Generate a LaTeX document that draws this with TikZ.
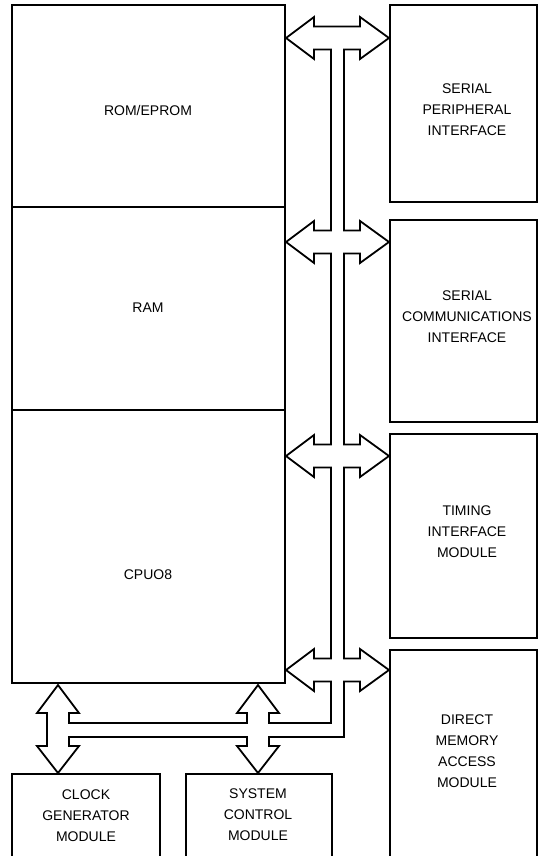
\documentclass[tikz,border=0pt]{standalone}
\usepackage{fontspec}
\setmainfont{Liberation Sans}
\begin{document}
\begin{tikzpicture}[x=1pt,y=-1pt,
  ln/.style={line width=1.8pt,line join=miter},
  lbl/.style={align=center,font=\fontsize{14}{21}\selectfont,inner sep=0pt}]
\useasboundingbox (0,0) rectangle (544,856);
\fill[white] (0,0) rectangle (544,856);
\begin{scope}
\clip (0,0) rectangle (544,856);
% left column
\draw[ln] (12,5) rectangle (285,683);
\draw[ln] (12,207) -- (285,207);
\draw[ln] (12,410) -- (285,410);
\node[lbl] (rom) at (148,110) {ROM/EPROM};
\node[lbl] (ram) at (148,308) {RAM};
\node[lbl] (cpu) at (148,575) {CPUO8};
% right column
\draw[ln] (390,5) rectangle (537,202);
\draw[ln] (390,220) rectangle (537,422);
\draw[ln] (390,434) rectangle (537,638);
\draw[ln] (390,870) -- (390,650) -- (537,650) -- (537,870);
\node[lbl] (spi) at (467,110) {SERIAL\\PERIPHERAL\\INTERFACE};
\node[lbl] (sci) at (467,317) {SERIAL\\COMMUNICATIONS\\INTERFACE};
\node[lbl] (tim) at (467,532) {TIMING\\INTERFACE\\MODULE};
\node[lbl] (dma) at (467,751) {DIRECT\\MEMORY\\ACCESS\\MODULE};
% bottom boxes
\draw[ln] (12,870) -- (12,774) -- (160,774) -- (160,870);
\draw[ln] (186,870) -- (186,774) -- (332,774) -- (332,870);
\node[lbl] (cgm) at (86,816) {CLOCK\\GENERATOR\\MODULE};
\node[lbl] (scm) at (258,815) {SYSTEM\\CONTROL\\MODULE};
% bus outline
\draw[ln,fill=white]
  (331,26.5) -- (314,26.5) -- (314,17) -- (286,38) -- (314,59) -- (314,49.5) -- (331,49.5)
  -- (331,230.5) -- (314,230.5) -- (314,221) -- (286,242) -- (314,263) -- (314,253.5) -- (331,253.5)
  -- (331,444.5) -- (314,444.5) -- (314,435) -- (286,456) -- (314,477) -- (314,467.5) -- (331,467.5)
  -- (331,658.5) -- (314,658.5) -- (314,649) -- (286,670) -- (314,691) -- (314,681.5) -- (331,681.5)
  -- (331,723) -- (269,723) -- (269,713) -- (279,713) -- (258,685) -- (237,713) -- (247,713) -- (247,723)
  -- (69,723) -- (69,713) -- (79,713) -- (58,685) -- (37,713) -- (47,713)
  -- (47,746) -- (37,746) -- (58,773) -- (79,746) -- (69,746) -- (69,737)
  -- (247,737) -- (247,746) -- (237,746) -- (258,773) -- (279,746) -- (269,746) -- (269,737)
  -- (344,737) -- (344,681.5)
  -- (360,681.5) -- (360,691) -- (389,670) -- (360,649) -- (360,658.5) -- (344,658.5)
  -- (344,467.5) -- (360,467.5) -- (360,477) -- (389,456) -- (360,435) -- (360,444.5) -- (344,444.5)
  -- (344,253.5) -- (360,253.5) -- (360,263) -- (389,242) -- (360,221) -- (360,230.5) -- (344,230.5)
  -- (344,49.5) -- (360,49.5) -- (360,59) -- (389,38) -- (360,17) -- (360,26.5) -- cycle;
\end{scope}
\end{tikzpicture}
\end{document}
